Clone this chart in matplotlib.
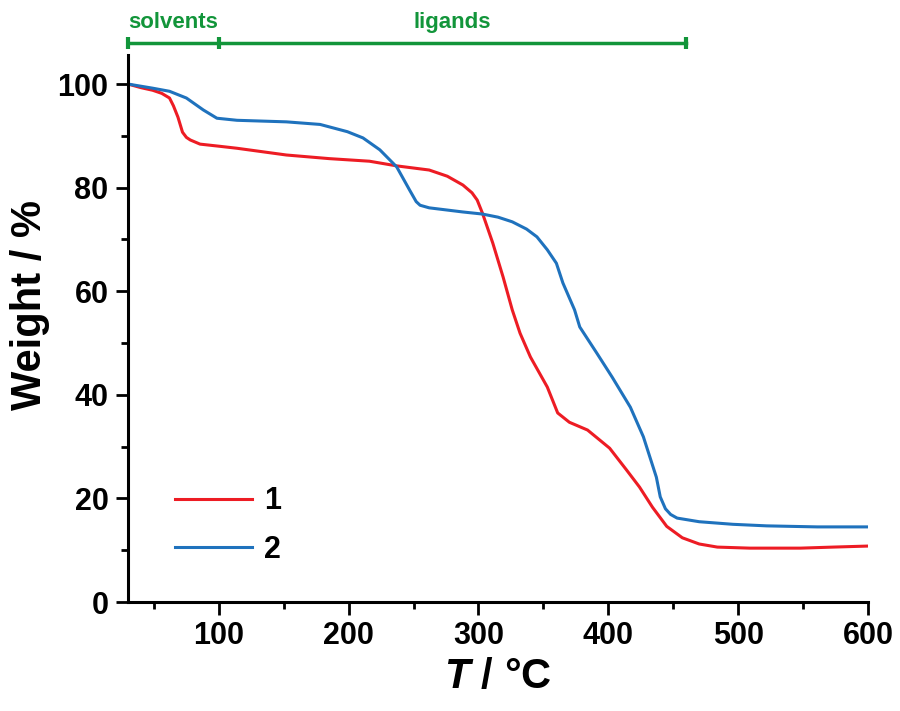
import numpy as np
import matplotlib
matplotlib.use('Agg')
from matplotlib import pyplot as plt

# TGA curves
T_1 = [30, 40, 49, 56, 62, 65, 68.5, 72, 75, 78, 85.5, 100, 114, 152, 185, 216, 237, 262, 276, 288, 295, 299, 303,
       311, 319, 326, 332, 340, 353, 361, 370, 384, 401, 414, 424, 434, 445, 457, 470, 484, 509, 548, 573, 600]
W_1 = [100, 99.3, 98.8, 98.2, 97.3, 95.8, 93.6, 90.7, 89.7, 89.2, 88.4, 88.0, 87.6, 86.3, 85.6, 85.1, 84.2, 83.4, 82.2, 80.5, 79.0, 77.6, 75.1,
       69.3, 62.7, 56.4, 51.9, 47.3, 41.5, 36.5, 34.7, 33.2, 29.7, 25.5, 22.2, 18.3, 14.6, 12.4, 11.2, 10.6, 10.4, 10.4, 10.6, 10.8]

T_2 = [30, 49, 62, 75, 88, 98.5, 114, 152, 178, 199, 211, 224, 237, 247, 252, 255, 262, 288, 303, 315, 326, 337, 345,
       353, 360, 365, 374, 378, 391, 403, 417, 427, 437, 440, 444, 448, 453, 470, 496, 522, 561, 600]
W_2 = [100, 99.2, 98.6, 97.3, 95, 93.4, 93, 92.7, 92.2, 90.8, 89.6, 87.3, 84, 79.5, 77.3, 76.6, 76.1, 75.3, 74.9, 74.3, 73.4, 72.0, 70.5,
       68, 65.4, 61.6, 56.4, 53.1, 48.1, 43.4, 37.6, 31.9, 24.1, 20.3, 18.0, 16.9, 16.2, 15.5, 15.0, 14.7, 14.5, 14.5]

labels = ['1', '2']
colors = ['#ed1c24', '#1f72bd']

# steps bracket
step_edges = [30, 100, 460]
step_names = ['solvents', 'ligands']
green = '#12953a'

plt.rcParams['font.family'] = ['Liberation Sans', 'DejaVu Sans']
plt.rcParams['font.weight'] = 'bold'
plt.rcParams['mathtext.fontset'] = 'custom'
plt.rcParams['mathtext.it'] = 'Liberation Sans:bold:italic'
plt.rcParams['mathtext.rm'] = 'Liberation Sans:bold'

fig = plt.figure(figsize=(9, 7.11), dpi=100)
ax = fig.add_axes([0.1422, 0.1533, 0.8222, 0.7693])

ax.plot(T_1, W_1, color=colors[0], lw=2.2, label=labels[0])
ax.plot(T_2, W_2, color=colors[1], lw=2.2, label=labels[1])

ax.set_xlim(30, 600)
ax.set_ylim(0, 105.6)
ax.set_xticks([100, 200, 300, 400, 500, 600])
ax.set_xticks(np.arange(50, 600, 100), minor=True)
ax.set_yticks([0, 20, 40, 60, 80, 100])
ax.set_yticks(np.arange(10, 100, 20), minor=True)

for s in ['top', 'right']:
    ax.spines[s].set_visible(False)
for s in ['left', 'bottom']:
    ax.spines[s].set_linewidth(2.2)

ax.tick_params(which='major', direction='out', length=9, width=2, labelsize=22, pad=5)
ax.tick_params(which='minor', direction='out', length=5, width=2)
for lab in ax.get_xticklabels() + ax.get_yticklabels():
    lab.set_fontweight('bold')

ax.set_xlabel(r'$T$ / °C', fontsize=30, fontweight='bold', labelpad=4)
ax.set_ylabel('Weight / %', fontsize=30, fontweight='bold')
ax.yaxis.set_label_coords(-0.105, 0.543)

# bracket above the plot
ax.plot(step_edges, [108, 108, 108], color=green, lw=2.5, marker='|', ms=9, mew=3, clip_on=False)
for i, name in enumerate(step_names):
    ax.text((step_edges[i] + step_edges[i + 1]) / 2, 109.8, name, color=green, fontsize=16,
            fontweight='bold', ha='center', va='bottom', clip_on=False)

leg = ax.legend(loc='upper left', bbox_to_anchor=(0.027, 0.262), frameon=False, fontsize=22,
                handlelength=2.5, handletextpad=0.4, labelspacing=0.6)
for t in leg.get_texts():
    t.set_fontweight('bold')

fig.savefig('out.png', dpi=100)
